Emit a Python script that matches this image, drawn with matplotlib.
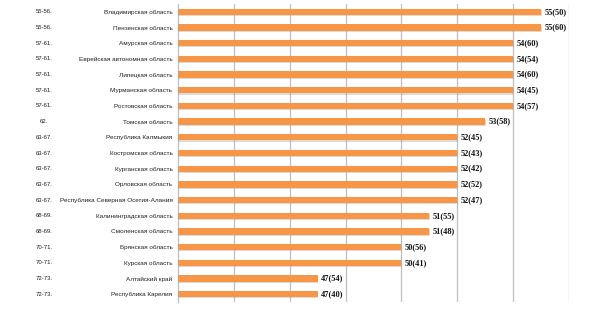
import matplotlib
matplotlib.use("Agg")
import matplotlib.pyplot as plt
import matplotlib.patheffects as pe
from matplotlib.transforms import blended_transform_factory

ranks = ["55-56.", "55-56.", "57-61.", "57-61.", "57-61.", "57-61.", "57-61.",
         "62.", "63-67.", "63-67.", "63-67.", "63-67.", "63-67.",
         "68-69.", "68-69.", "70-71.", "70-71.", "72-73.", "72-73."]
regions = ["Владимирская область", "Пензенская область", "Амурская область",
           "Еврейская автономная область", "Липецкая область", "Мурманская область",
           "Ростовская область", "Томская область", "Республика Калмыкия",
           "Костромская область", "Курганская область", "Орловская область",
           "Республика Северная Осетия-Алания", "Калининградская область",
           "Смоленская область", "Брянская область", "Курская область",
           "Алтайский край", "Республика Карелия"]
values = [55, 55, 54, 54, 54, 54, 54, 53, 52, 52, 52, 52, 52, 51, 51, 50, 50, 47, 47]
prev = [50, 60, 60, 54, 60, 45, 57, 58, 45, 43, 42, 52, 47, 55, 48, 56, 41, 54, 40]

fig = plt.figure(figsize=(5.9, 3.1), dpi=100)
ax = fig.add_axes([178 / 590, 8 / 310, 391 / 590, 298 / 310])

y = list(range(len(values)))
bars = ax.barh(y, values, height=0.4, color="#F79646", zorder=3)
for b in bars:
    b.set_path_effects([pe.SimplePatchShadow(offset=(0.6, -0.8), shadow_rgbFace="#9a9a9a", alpha=0.35),
                        pe.Normal()])

ax.set_xlim(42, 56)
ax.set_ylim(len(values) - 0.5, -0.5)
ax.set_xticks([44, 46, 48, 50, 52, 54, 56])
ax.set_xticklabels([])
ax.tick_params(axis="x", length=0)
ax.grid(axis="x", color="#BFBFBF", linewidth=0.9, zorder=0)

ax.set_yticks(y)
ax.set_yticklabels(regions, fontsize=4.6, family="Liberation Sans", color="#222222")
ax.tick_params(axis="y", length=0, pad=4)

for s in ["top", "right", "bottom"]:
    ax.spines[s].set_visible(False)
ax.spines["left"].set_color("#BFBFBF")
ax.spines["left"].set_linewidth(0.9)

for i, (v, p) in enumerate(zip(values, prev)):
    ax.text(v + 0.12, i, f"{v}({p})", va="center", ha="left", fontsize=6,
            family="Liberation Serif", fontweight="bold", color="#111111")

tr = blended_transform_factory(ax.transAxes, ax.transData)
for i, r in enumerate(ranks):
    ax.text(-0.3427, i, r, va="center", ha="center", fontsize=4.3,
            family="Liberation Sans", color="#222222", transform=tr)

fig.savefig("out.png", dpi=100)
